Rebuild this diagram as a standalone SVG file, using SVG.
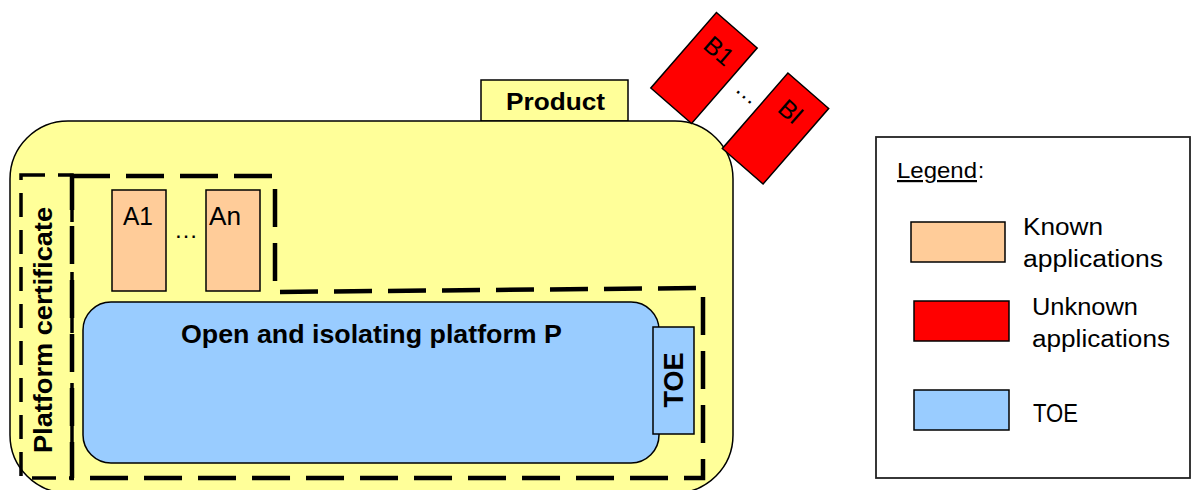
<svg xmlns="http://www.w3.org/2000/svg" width="1195" height="490" viewBox="0 0 1195 490">
<style>
.box{stroke:#000;stroke-width:1.5}
.yel{fill:#FFFF99}
.org{fill:#FFCC99}
.blu{fill:#99CCFF}
.red{fill:#FF0000}
.dashA{fill:none;stroke:#000;stroke-width:4.5;stroke-dasharray:38 16}
.dashB{fill:none;stroke:#000;stroke-width:3.5;stroke-dasharray:24 13}
.t{font-family:"Liberation Sans",Arial,sans-serif;fill:#000}
.b{font-weight:bold}
</style>
<rect width="1195" height="490" fill="#fff"/>
<g id="product">
<rect class="box yel" x="481" y="80" width="147" height="41"/>
<text class="t b" x="506" y="110" font-size="24" textLength="99" lengthAdjust="spacingAndGlyphs">Product</text>
</g>
<g id="device">
<rect class="box yel" x="10" y="121" width="723" height="372" rx="58" ry="58"/>
</g>
<g id="platform-cert">
<rect class="dashB" x="21" y="175" width="51" height="303"/>
<text class="t b" transform="translate(52,330) rotate(-90)" text-anchor="middle" font-size="26" textLength="246" lengthAdjust="spacingAndGlyphs">Platform certificate</text>
</g>
<g id="scope">
<path class="dashA" d="M72,176 L275,176 L275,292 L703,288 L703,478 L72,478 Z"/>
</g>
<g id="A1">
<rect class="box org" x="112" y="190" width="54" height="101"/>
<text class="t" x="123" y="225" font-size="25" textLength="30" lengthAdjust="spacingAndGlyphs">A1</text>
</g>
<text class="t" x="174" y="238" font-size="24" textLength="24" lengthAdjust="spacingAndGlyphs">…</text>
<g id="An">
<rect class="box org" x="206" y="190" width="54" height="101"/>
<text class="t" x="209" y="225" font-size="25" textLength="32" lengthAdjust="spacingAndGlyphs">An</text>
</g>
<g id="platform">
<rect class="box blu" x="83" y="302" width="576" height="161" rx="28" ry="28"/>
<text class="t b" x="181" y="343" font-size="25" textLength="381" lengthAdjust="spacingAndGlyphs">Open and isolating platform P</text>
</g>
<g id="toe">
<rect class="box blu" x="653" y="327" width="41" height="107"/>
<text class="t b" transform="translate(683,380) rotate(-90)" text-anchor="middle" font-size="27" textLength="55" lengthAdjust="spacingAndGlyphs">TOE</text>
</g>
<g id="B1" transform="translate(704,68) rotate(41)">
<rect class="box red" x="-27" y="-50" width="54" height="100"/>
<text class="t" x="0" y="-14" text-anchor="middle" font-size="25">B1</text>
</g>
<text class="t" transform="translate(743,98) rotate(41)" text-anchor="middle" font-size="24">…</text>
<g id="Bl" transform="translate(775.5,128.5) rotate(41)">
<rect class="box red" x="-27" y="-50" width="54" height="100"/>
<text class="t" x="0" y="-14" text-anchor="middle" font-size="25">Bl</text>
</g>
<g id="legend">
<rect x="876" y="137" width="314" height="341" fill="#fff" stroke="#222" stroke-width="1.8"/>
<text class="t" x="897" y="178" font-size="22" textLength="80" lengthAdjust="spacingAndGlyphs" text-decoration="underline">Legend</text>
<text class="t" x="978" y="178" font-size="22">:</text>
<rect class="box org" x="911" y="222" width="94" height="40"/>
<text class="t" x="1023" y="235" font-size="23" textLength="80" lengthAdjust="spacingAndGlyphs">Known</text>
<text class="t" x="1023" y="267" font-size="23" textLength="140" lengthAdjust="spacingAndGlyphs">applications</text>
<rect class="box red" x="914" y="301" width="95" height="40"/>
<text class="t" x="1032" y="315" font-size="23" textLength="106" lengthAdjust="spacingAndGlyphs">Unknown</text>
<text class="t" x="1032" y="347" font-size="23" textLength="138" lengthAdjust="spacingAndGlyphs">applications</text>
<rect class="box blu" x="914" y="390" width="95" height="40"/>
<text class="t" x="1033" y="422" font-size="25" textLength="45" lengthAdjust="spacingAndGlyphs">TOE</text>
</g>
</svg>
